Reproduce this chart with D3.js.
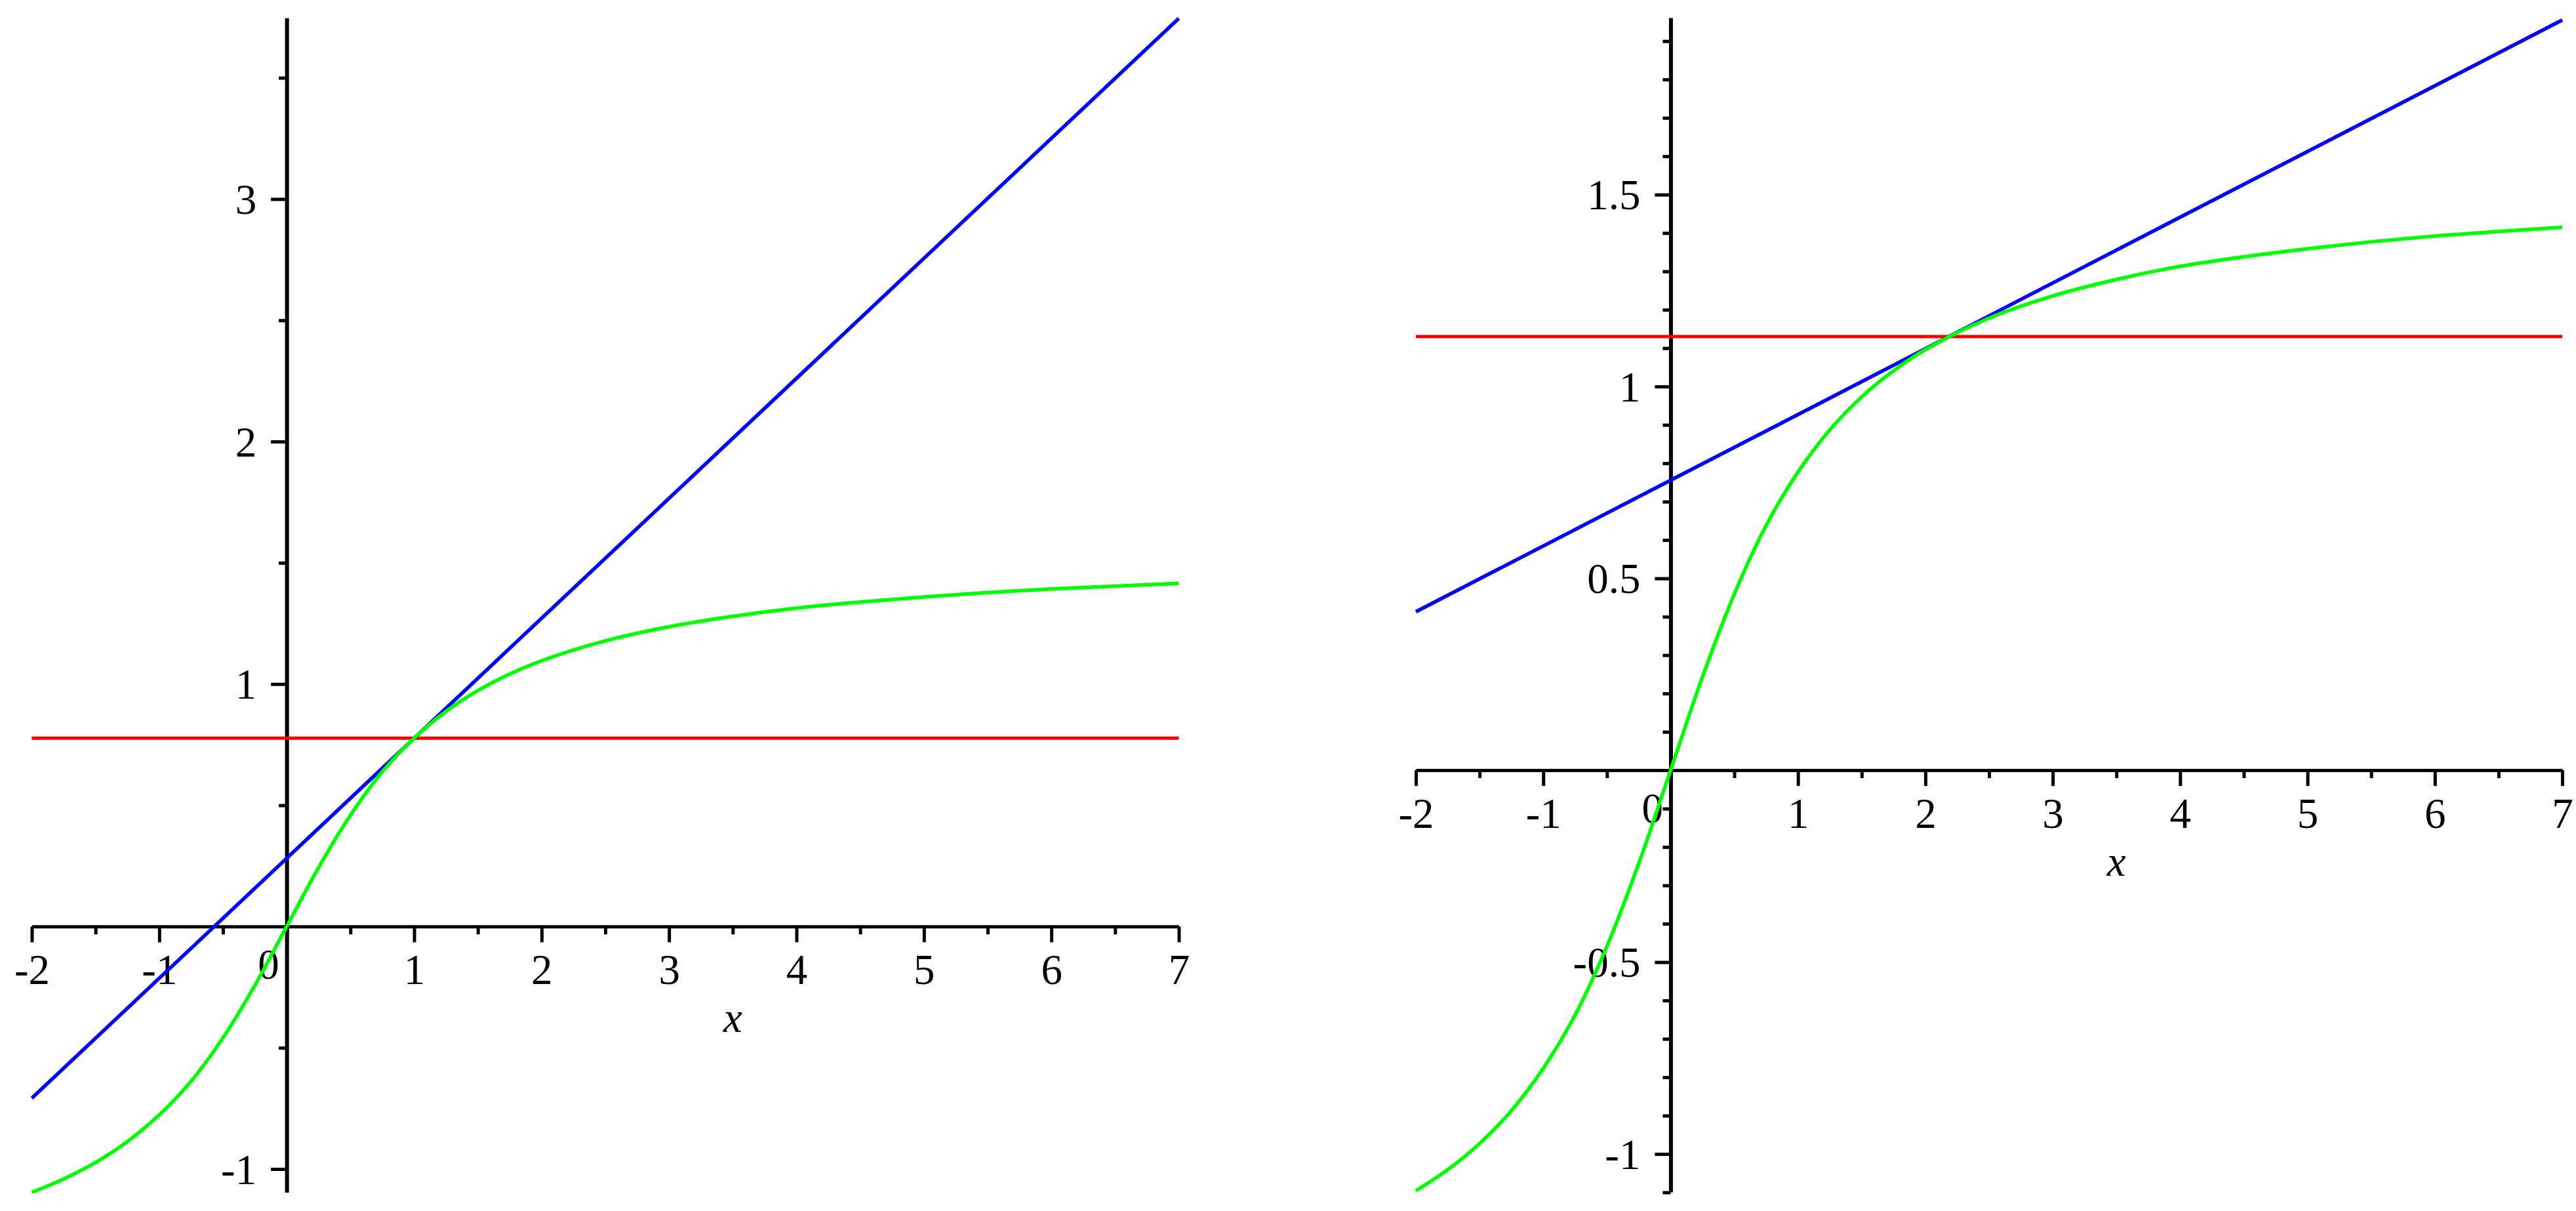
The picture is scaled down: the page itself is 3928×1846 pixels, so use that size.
<!DOCTYPE html>
<html>
<head>
<meta charset="utf-8">
<script src="https://cdn.jsdelivr.net/npm/d3@7"></script>
<style>
  body { margin: 0; background: #fff; }
  svg { display: block; }
</style>
</head>
<body>
<div class="chart"></div>
<script>
// green curve (both panels show the same curve)
var curveX = [-2, -1.75, -1.5, -1.25, -1, -0.75, -0.5, -0.25, 0, 0.25, 0.5, 0.75, 1,
    1.25, 1.5, 1.75, 2, 2.5, 3, 3.5, 4, 4.5, 5, 5.5, 6, 6.5, 7];
var curveY = [-1.096, -1.041, -0.973, -0.887, -0.777, -0.638, -0.459, -0.243, 0, 0.243, 0.459, 0.638, 0.777,
    0.887, 0.973, 1.041, 1.096, 1.178, 1.236, 1.279, 1.313, 1.338, 1.359, 1.377, 1.392, 1.404, 1.415];

// straight lines: end points at x = -2 and x = 7
var lineX = [-2, 7];
var leftTangentY = [-0.708, 3.745];
var leftLevelY = [0.777, 0.777];
var rightTangentY = [0.413, 1.955];
var rightLevelY = [1.13, 1.13];

// axis ticks
var xMajor = [-2, -1, 0, 1, 2, 3, 4, 5, 6, 7];
var xMinor = [-1.5, -0.5, 0.5, 1.5, 2.5, 3.5, 4.5, 5.5, 6.5];
var leftYMajor = [-1, 1, 2, 3];
var leftYMinor = [-0.5, 0.5, 1.5, 2.5, 3.5];
var rightYMajor = [-1, -0.5, 0.5, 1, 1.5];
var rightYMinor = [-1.1, -0.9, -0.8, -0.7, -0.6, -0.4, -0.3, -0.2, -0.1, 0.1, 0.2, 0.3, 0.4,
    0.6, 0.7, 0.8, 0.9, 1.1, 1.2, 1.3, 1.4, 1.6, 1.7, 1.8, 1.9];

var svgWidth = 3928;
var svgHeight = 1846;
var font = "'Liberation Serif', 'Times New Roman', serif";

var svg = d3.select(".chart")
    .append("svg")
    .attr("width", svgWidth)
    .attr("height", svgHeight);

svg.append("rect")
    .attr("width", svgWidth)
    .attr("height", svgHeight)
    .attr("fill", "#fff");

function drawPanel(opts) {
    var xScale = d3.scaleLinear().domain([-2, 7]).range(opts.xRange);
    var yScale = d3.scaleLinear().domain(opts.yDomain).range(opts.yRange);

    var g = svg.append("g");
    var x0 = xScale(0);
    var y0 = yScale(0);

    // x axis
    var xAxis = g.append("g")
        .attr("transform", `translate(0, ${y0})`)
        .call(d3.axisBottom(xScale).tickValues(xMajor).tickSize(24).tickSizeOuter(0)
            .tickFormat(d => String(d)));
    xAxis.select(".domain").attr("stroke-width", 5);
    xAxis.selectAll(".tick line").attr("stroke-width", 5);
    xAxis.selectAll(".tick text")
        .attr("y", 88)
        .attr("dy", 0)
        .attr("font-family", font)
        .attr("font-size", 65)
        .attr("fill", "#000");
    // zero label sits left of the vertical axis
    xAxis.selectAll(".tick")
        .filter(d => d === 0)
        .select("text")
        .attr("text-anchor", "end")
        .attr("x", -12)
        .attr("y", 80);

    g.append("g")
        .attr("transform", `translate(0, ${y0})`)
        .call(d3.axisBottom(xScale).tickValues(xMinor).tickSize(12).tickSizeOuter(0).tickFormat(""))
        .call(a => a.select(".domain").remove())
        .selectAll(".tick line").attr("stroke-width", 5);

    // y axis
    var yAxis = g.append("g")
        .attr("transform", `translate(${x0}, 0)`)
        .call(d3.axisLeft(yScale).tickValues(opts.yMajor).tickSize(24).tickSizeOuter(0)
            .tickFormat(d => String(d)));
    yAxis.select(".domain").attr("stroke-width", 6);
    yAxis.selectAll(".tick line").attr("stroke-width", 5);
    yAxis.selectAll(".tick text")
        .attr("x", -46)
        .attr("dy", 22)
        .attr("font-family", font)
        .attr("font-size", 65)
        .attr("fill", "#000");

    g.append("g")
        .attr("transform", `translate(${x0}, 0)`)
        .call(d3.axisLeft(yScale).tickValues(opts.yMinor).tickSize(12).tickSizeOuter(0).tickFormat(""))
        .call(a => a.select(".domain").remove())
        .selectAll(".tick line").attr("stroke-width", 5);

    // axis title
    g.append("text")
        .attr("x", xScale(3.5))
        .attr("y", y0 + 161)
        .attr("text-anchor", "middle")
        .attr("font-family", font)
        .attr("font-style", "italic")
        .attr("font-size", 65)
        .text("x");

    var line = d3.line()
        .x(d => xScale(d[0]))
        .y(d => yScale(d[1]));

    // horizontal level line
    g.append("path")
        .datum(lineX.map((v, i) => [v, opts.levelY[i]]))
        .attr("d", line)
        .attr("fill", "none")
        .attr("stroke", "#ff0000")
        .attr("stroke-width", 5);

    // tangent line
    g.append("path")
        .datum(lineX.map((v, i) => [v, opts.tangentY[i]]))
        .attr("d", line)
        .attr("fill", "none")
        .attr("stroke", "#0000ff")
        .attr("stroke-width", 5.5);

    // green curve
    g.append("path")
        .datum(curveX.map((v, i) => [v, curveY[i]]))
        .attr("d", line.curve(d3.curveCatmullRom))
        .attr("fill", "none")
        .attr("stroke", "#00ff00")
        .attr("stroke-width", 5.5);
}

drawPanel({
    xRange: [48.5, 1797.5],
    yDomain: [-1.096, 3.747],
    yRange: [1817.5, 27.3],
    yMajor: leftYMajor,
    yMinor: leftYMinor,
    levelY: leftLevelY,
    tangentY: leftTangentY
});

drawPanel({
    xRange: [2159, 3907],
    yDomain: [-1.099, 1.961],
    yRange: [1817, 27],
    yMajor: rightYMajor,
    yMinor: rightYMinor,
    levelY: rightLevelY,
    tangentY: rightTangentY
});
</script>
</body>
</html>
